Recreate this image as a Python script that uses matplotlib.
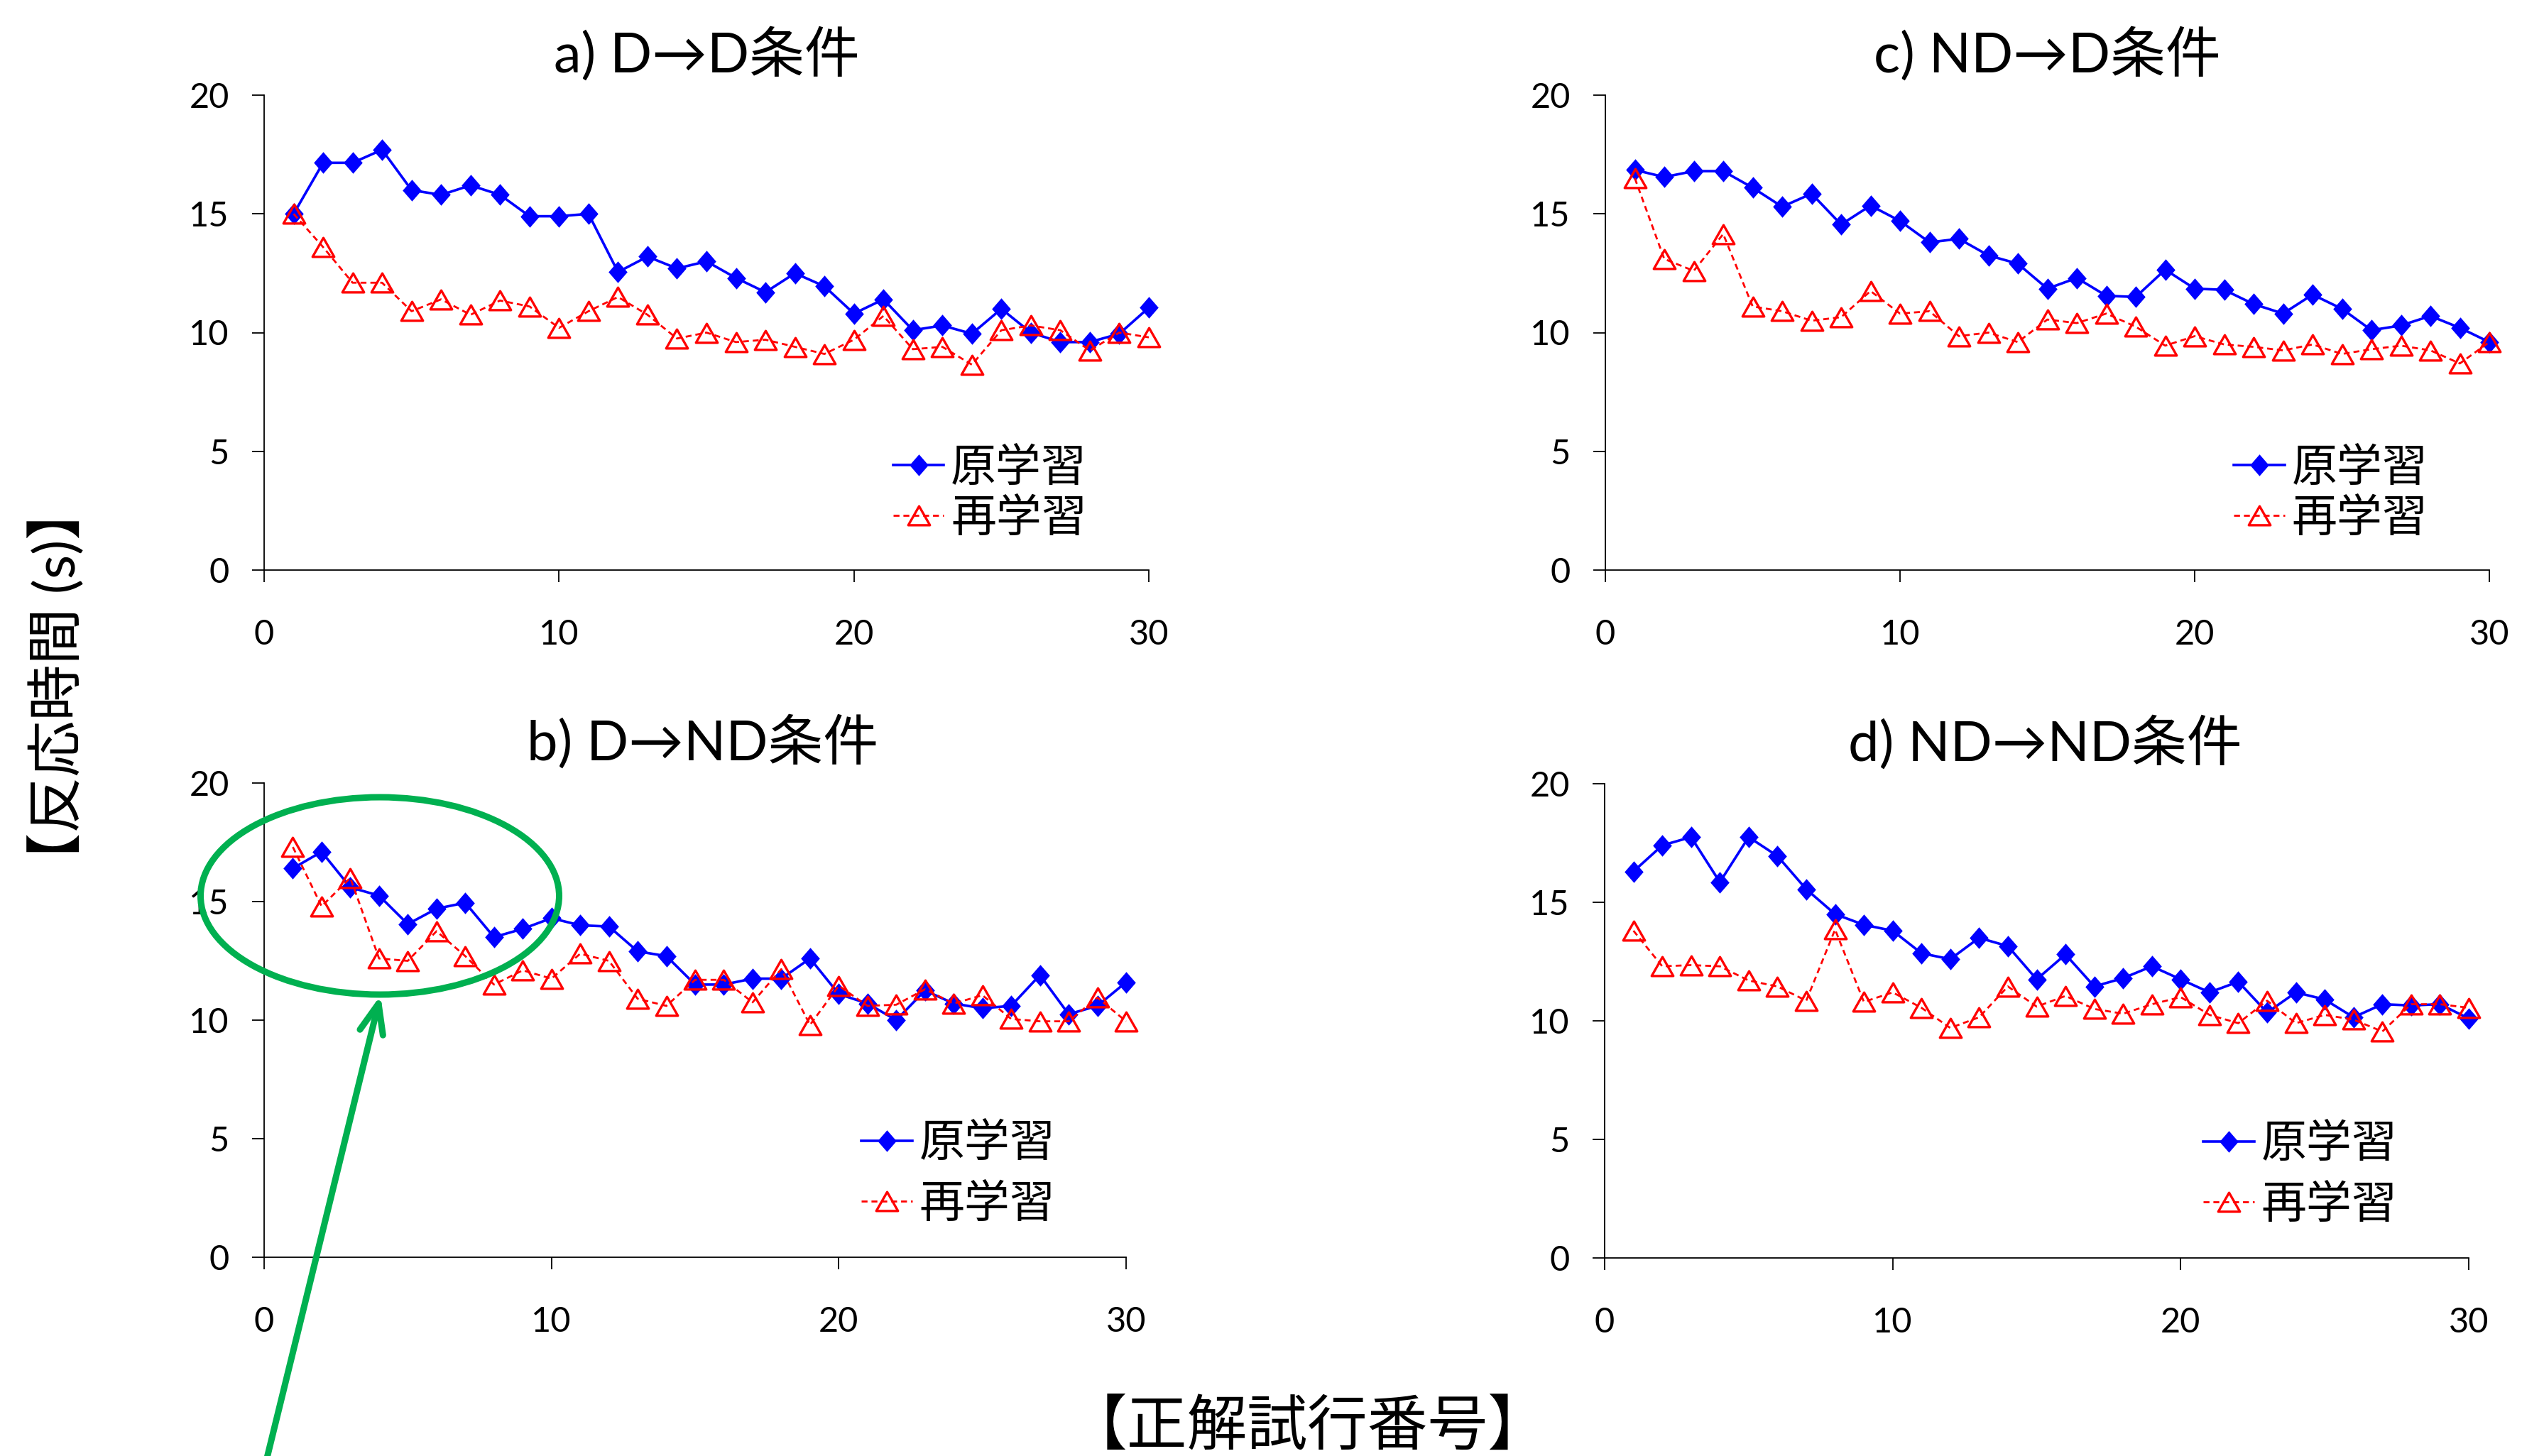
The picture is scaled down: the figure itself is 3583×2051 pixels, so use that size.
import matplotlib
matplotlib.use("Agg")
import matplotlib.pyplot as plt
from matplotlib.path import Path
from matplotlib.patches import Ellipse, FancyArrowPatch

plt.rcParams['font.family'] = ['Lato', 'Noto Sans CJK JP', 'DejaVu Sans']

# ---------------- data ----------------
trials = list(range(1, 31))
series_labels = ['原学習', '再学習']
panel_titles = ['a) D→D条件', 'b) D→ND条件', 'c) ND→D条件', 'd) ND→ND条件']
x_ticks = [0, 10, 20, 30]
y_ticks = [0, 5, 10, 15, 20]
x_label = '【正解試行番号】'
y_label = '【反応時間 (s)】'

a_orig = [15.0, 17.15, 17.15, 17.7, 16.0, 15.8, 16.2, 15.8, 14.9, 14.9,
          15.0, 12.55, 13.2, 12.7, 13.0, 12.3, 11.7, 12.5, 11.95, 10.8,
          11.4, 10.1, 10.3, 9.95, 11.0, 10.0, 9.6, 9.6, 9.95, 11.05]
a_re = [15.0, 13.6, 12.1, 12.1, 10.9, 11.4, 10.75, 11.35, 11.1, 10.2,
        10.9, 11.5, 10.75, 9.75, 10.0, 9.6, 9.7, 9.4, 9.1, 9.7,
        10.7, 9.3, 9.4, 8.65, 10.1, 10.3, 10.1, 9.25, 10.0, 9.8]

b_orig = [16.4, 17.1, 15.6, 15.25, 14.05, 14.7, 14.95, 13.5, 13.85, 14.3,
          14.0, 13.95, 12.9, 12.7, 11.5, 11.5, 11.75, 11.75, 12.6, 11.1,
          10.7, 10.0, 11.25, 10.7, 10.5, 10.6, 11.9, 10.25, 10.6, 11.6]
b_re = [17.3, 14.8, 16.0, 12.6, 12.5, 13.75, 12.7, 11.5, 12.1, 11.75,
        12.8, 12.5, 10.9, 10.6, 11.7, 11.7, 10.75, 12.15, 9.8, 11.45,
        10.6, 10.65, 11.3, 10.7, 11.05, 10.05, 9.95, 9.95, 10.95, 9.95]

c_orig = [16.85, 16.55, 16.8, 16.8, 16.1, 15.3, 15.85, 14.55, 15.35, 14.7,
          13.8, 13.95, 13.25, 12.9, 11.85, 12.3, 11.55, 11.5, 12.65, 11.85,
          11.8, 11.2, 10.8, 11.6, 11.0, 10.1, 10.3, 10.7, 10.2, 9.6]
c_re = [16.5, 13.1, 12.6, 14.15, 11.1, 10.9, 10.5, 10.65, 11.75, 10.8,
        10.9, 9.85, 10.0, 9.6, 10.55, 10.4, 10.8, 10.25, 9.45, 9.85,
        9.5, 9.4, 9.25, 9.5, 9.1, 9.3, 9.45, 9.25, 8.7, 9.6]

d_orig = [16.3, 17.4, 17.75, 15.85, 17.75, 16.95, 15.55, 14.5, 14.05, 13.8,
          12.85, 12.6, 13.5, 13.15, 11.75, 12.8, 11.45, 11.8, 12.3, 11.75,
          11.2, 11.65, 10.35, 11.2, 10.9, 10.15, 10.7, 10.65, 10.7, 10.1]
d_re = [13.8, 12.3, 12.35, 12.3, 11.7, 11.45, 10.85, 13.85, 10.8, 11.2,
        10.55, 9.7, 10.15, 11.45, 10.6, 11.05, 10.5, 10.3, 10.7, 11.0,
        10.25, 9.9, 10.85, 9.9, 10.25, 10.05, 9.55, 10.7, 10.7, 10.55]

panel_data = [(a_orig, a_re), (b_orig, b_re), (c_orig, c_re), (d_orig, d_re)]

# ---------------- layout (pixels of the 3583x2051 canvas) ----------------
W, H = 3583, 2051
# left, right, top, bottom
boxes = [(372, 1618, 134, 803),     # a
         (372, 1586, 1103, 1771),   # b
         (2261, 3506, 134, 803),    # c
         (2260, 3477, 1104, 1772)]  # d
title_x = [0.5, 0.509, 0.5, 0.51]
legend_pos = [(0.711, 0.162, 0.19), (0.693, 0.176, 0.42),
              (0.711, 0.162, 0.19), (0.693, 0.176, 0.42)]

diamond = Path([(0, 1), (0.87, 0), (0, -1), (-0.87, 0), (0, 1)], closed=True)
triangle = Path([(0, 0.4375), (-0.5, -0.4375), (0.5, -0.4375), (0, 0.4375)], closed=True)

fig = plt.figure(figsize=(W / 100, H / 100), dpi=100)
fig.patch.set_facecolor('white')

for i, ((orig, re), (l, r, t, b)) in enumerate(zip(panel_data, boxes)):
    ax = fig.add_axes([l / W, 1 - b / H, (r - l) / W, (b - t) / H])
    ax.plot(trials, orig, color='#0000FF', lw=2.6, marker=diamond,
            markersize=22, markerfacecolor='#0000FF', markeredgewidth=0,
            label=series_labels[0], clip_on=False, zorder=3)
    ax.plot(trials, re, color='#FF0000', lw=2.0, dashes=(3, 2), marker=triangle,
            markersize=22, markerfacecolor='none', markeredgecolor='#FF0000',
            markeredgewidth=2.4, label=series_labels[1], clip_on=False, zorder=4)
    ax.set_xlim(0, 30)
    ax.set_ylim(0, 20)
    ax.set_xticks(x_ticks)
    ax.set_yticks(y_ticks)
    for s in ['top', 'right']:
        ax.spines[s].set_visible(False)
    for s in ['left', 'bottom']:
        ax.spines[s].set_linewidth(1.3)
    ax.tick_params(axis='both', direction='out', length=12.5, width=1.3,
                   labelsize=35)
    ax.tick_params(axis='y', pad=23)
    ax.tick_params(axis='x', pad=37)
    ax.annotate(panel_titles[i], xy=(title_x[i], 1), xycoords='axes fraction',
                xytext=(0, 41), textcoords='offset points', ha='center',
                va='center', fontsize=56)
    lx, ly, ls = legend_pos[i]
    ax.legend(loc='center left', bbox_to_anchor=(lx, ly), frameon=False,
              fontsize=46, handlelength=1.12, handletextpad=0.15,
              labelspacing=ls, borderpad=0, borderaxespad=0)

fig.text(0.0225, 0.529, y_label, rotation=90, fontsize=57, ha='center', va='center')
fig.text(0.514, 0.0195, x_label, fontsize=61, ha='center', va='center')

# green annotation: ellipse and arrow
green = '#00B050'
ell = Ellipse((535 / W, 1 - 1262 / H), 505 / W, 278 / H, transform=fig.transFigure,
              fill=False, edgecolor=green, linewidth=6.5)
fig.add_artist(ell)
arr = FancyArrowPatch((372 / W, 1 - 2070 / H), (536 / W, 1 - 1402 / H),
                      transform=fig.transFigure,
                      arrowstyle='->,head_length=30,head_width=12',
                      mutation_scale=1, linewidth=6.5, color=green,
                      shrinkA=0, shrinkB=0)
fig.add_artist(arr)

fig.savefig('out.png', dpi=100, facecolor='white')
